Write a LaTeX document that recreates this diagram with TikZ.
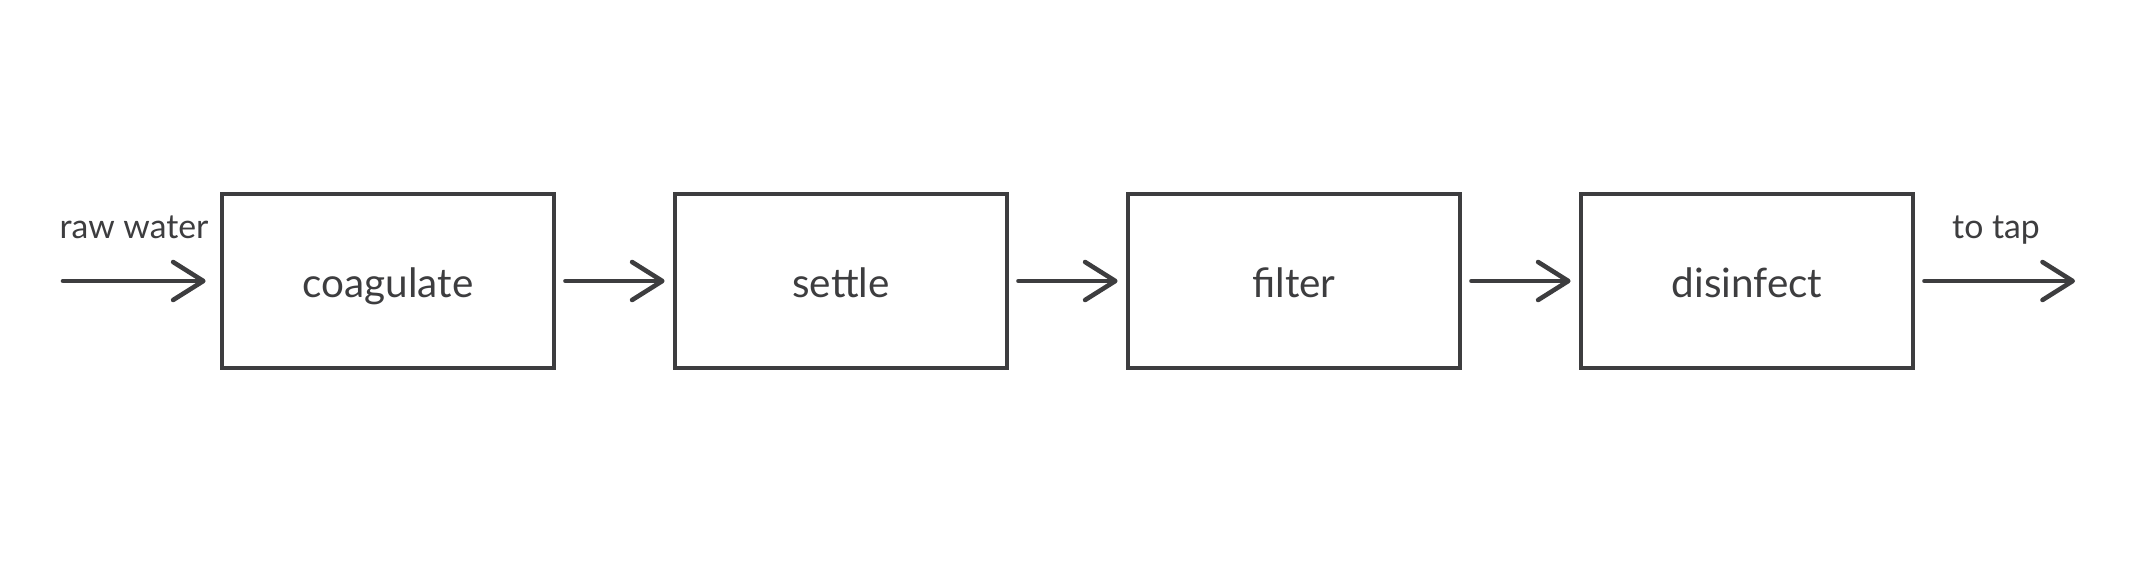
\documentclass[tikz,border=0pt]{standalone}
\usepackage{fontspec}
\setmainfont{Lato}
\usetikzlibrary{arrows.meta}
\definecolor{ink}{HTML}{3D3D3F}
\tikzset{
  stagebox/.style={draw=ink, line width=1.25pt, minimum width=3.32cm, minimum height=1.74cm, inner sep=0pt, text height=9.2pt, text depth=0pt, font=\fontsize{11.5}{13}\selectfont, text=ink},
  flow/.style={draw=ink, line width=1.3pt, line cap=round, -{Straight Barb[length=8.6pt, width=10.8pt, line width=1.3pt, round]}},
  gapflow/.style={flow, shorten <=2.6pt, shorten >=2.3pt},
  lab/.style={font=\fontsize{9.6}{11}\selectfont, text=ink, inner sep=0pt}
}
\begin{document}
\begin{tikzpicture}[x=0.01cm, y=-0.01cm]
\useasboundingbox (0,0) rectangle (2133,560);
\node[stagebox] (b1) at (388,281) {coagulate};
\node[stagebox] (b2) at (841,281) {settle};
\node[stagebox] (b3) at (1294,281) {filter};
\node[stagebox] (b4) at (1747,281) {disinfect};
\coordinate (in) at (63,281);
\coordinate (out) at (2075,281);
\node[lab, anchor=base] (lin) at (134,238) {raw water};
\node[lab, anchor=base] (lout) at (1996,238) {to tap};
\draw[flow, shorten >=4pt] (in) -- (b1.west);
\draw[gapflow] (b1.east) -- (b2.west);
\draw[gapflow] (b2.east) -- (b3.west);
\draw[gapflow] (b3.east) -- (b4.west);
\draw[flow, shorten <=2.6pt] (b4.east) -- (out);
\end{tikzpicture}
\end{document}
